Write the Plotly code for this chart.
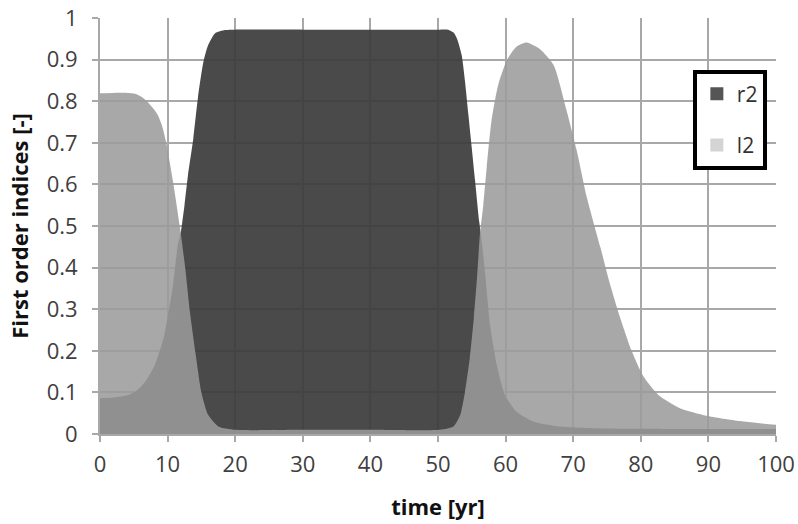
import plotly.graph_objects as go

# ---- data ----
t_r2 = [0, 2, 4.2, 5.5, 6.7, 8.1, 9.4, 10.1, 10.8, 11.5, 12.0, 12.5, 13.0, 13.8, 14.5, 15.3, 16.0, 17.0, 18.5, 20,
        30, 40, 50, 51.5, 52.3, 52.8, 53.5, 54.0, 54.5, 55.0, 55.5, 56.1, 56.5, 57.0, 57.7, 58.7, 59.9, 61.6, 64.1,
        68.0, 75.0, 85.0, 100]
r2 = [0.086, 0.088, 0.094, 0.105, 0.126, 0.166, 0.23, 0.29, 0.358, 0.454, 0.49, 0.55, 0.62, 0.71, 0.81, 0.895, 0.935,
      0.963, 0.971, 0.972,
      0.972, 0.972, 0.972, 0.972, 0.965, 0.951, 0.911, 0.847, 0.767, 0.687, 0.607, 0.51, 0.46, 0.382, 0.262, 0.166,
      0.094, 0.054, 0.030,
      0.018, 0.013, 0.012, 0.012]

t_l2 = [0, 2, 4, 5.2, 6.2, 7.1, 8.0, 8.6, 9.2, 9.8, 10.8, 11.8, 12.6, 13.3, 14.1, 15.0, 16.0, 17.5, 20,
        30, 40, 50.3, 52.3, 53.3, 54.0, 54.7, 55.3, 55.8, 56.2, 56.7, 57.2, 57.9, 58.9, 60.2, 61.6, 63.1, 65.1,
        67.1, 69.0, 70.5, 72.0, 74.0, 75.4, 76.9, 78.6, 80.4, 82.6, 85.8, 89.7, 94.7, 100]
l2 = [0.819, 0.82, 0.82, 0.818, 0.81, 0.797, 0.78, 0.765, 0.74, 0.70, 0.607, 0.50, 0.40, 0.294, 0.198, 0.10, 0.046,
      0.018, 0.01,
      0.01, 0.01, 0.01, 0.018, 0.046, 0.102, 0.182, 0.278, 0.382, 0.48, 0.55, 0.64, 0.751, 0.839, 0.899, 0.931,
      0.941, 0.925,
      0.887, 0.779, 0.683, 0.57, 0.45, 0.363, 0.282, 0.202, 0.138, 0.094, 0.062, 0.044, 0.031, 0.022]

x_ticks = [0, 10, 20, 30, 40, 50, 60, 70, 80, 90, 100]
y_ticks = [0, 0.1, 0.2, 0.3, 0.4, 0.5, 0.6, 0.7, 0.8, 0.9, 1]
y_tick_text = ["0", "0.1", "0.2", "0.3", "0.4", "0.5", "0.6", "0.7", "0.8", "0.9", "1"]

FONT = "Open Sans"

fig = go.Figure()
fig.add_trace(go.Scatter(x=t_r2, y=r2, name="r2", mode="lines", fill="tozeroy",
                         line=dict(width=0, color="rgba(60,60,60,0.93)", shape="spline", smoothing=0.6),
                         fillcolor="rgba(60,60,60,0.93)", showlegend=False, hoverinfo="skip"))
fig.add_trace(go.Scatter(x=t_l2, y=l2, name="l2", mode="lines", fill="tozeroy",
                         line=dict(width=0, color="rgba(155,155,155,0.87)", shape="spline", smoothing=0.6),
                         fillcolor="rgba(155,155,155,0.87)", showlegend=False, hoverinfo="skip"))
# legend swatches
fig.add_trace(go.Scatter(x=[None], y=[None], name="r2", mode="markers", legendgroup="a",
                         marker=dict(symbol="square", size=13, color="#555555")))
fig.add_trace(go.Scatter(x=[None], y=[None], name="l2", mode="markers", legendgroup="b",
                         marker=dict(symbol="square", size=13, color="#d4d4d4")))

grid = "#a8a8a8"
fig.update_layout(
    width=798, height=524,
    margin=dict(l=100, r=22, t=18, b=90, autoexpand=False),
    paper_bgcolor="white", plot_bgcolor="white",
    font=dict(family=FONT, size=22, color="#404040"),
    showlegend=True,
    legend=dict(x=0.877, y=0.876, xanchor="left", yanchor="top",
                bordercolor="black", borderwidth=4, bgcolor="white",
                font=dict(family=FONT, size=21, color="#333333"),
                traceorder="grouped", tracegroupgap=21, itemwidth=30),
    xaxis=dict(range=[0, 100], tickvals=x_ticks, ticktext=[str(v) for v in x_ticks],
               showgrid=True, gridcolor=grid, gridwidth=2,
               showline=True, linecolor=grid, linewidth=2,
               ticks="outside", ticklen=6, tickcolor=grid, tickwidth=2,
               zeroline=False, ticklabelstandoff=4, automargin=False,
               title=dict(text="<b>time [yr]</b>", font=dict(family=FONT, size=22, color="#111111"), standoff=22),
               tickfont=dict(family=FONT, size=22, color="#404040")),
    yaxis=dict(range=[0, 1], tickvals=y_ticks, ticktext=y_tick_text,
               showgrid=True, gridcolor=grid, gridwidth=2,
               showline=True, linecolor=grid, linewidth=2,
               ticks="outside", ticklen=6, tickcolor=grid, tickwidth=2,
               zeroline=False, ticklabelstandoff=10, automargin=False,
               title=dict(text="<b>First order indices [-]</b>", font=dict(family=FONT, size=22, color="#111111"), standoff=12),
               tickfont=dict(family=FONT, size=22, color="#404040")),
)
fig.write_html("out.html")
